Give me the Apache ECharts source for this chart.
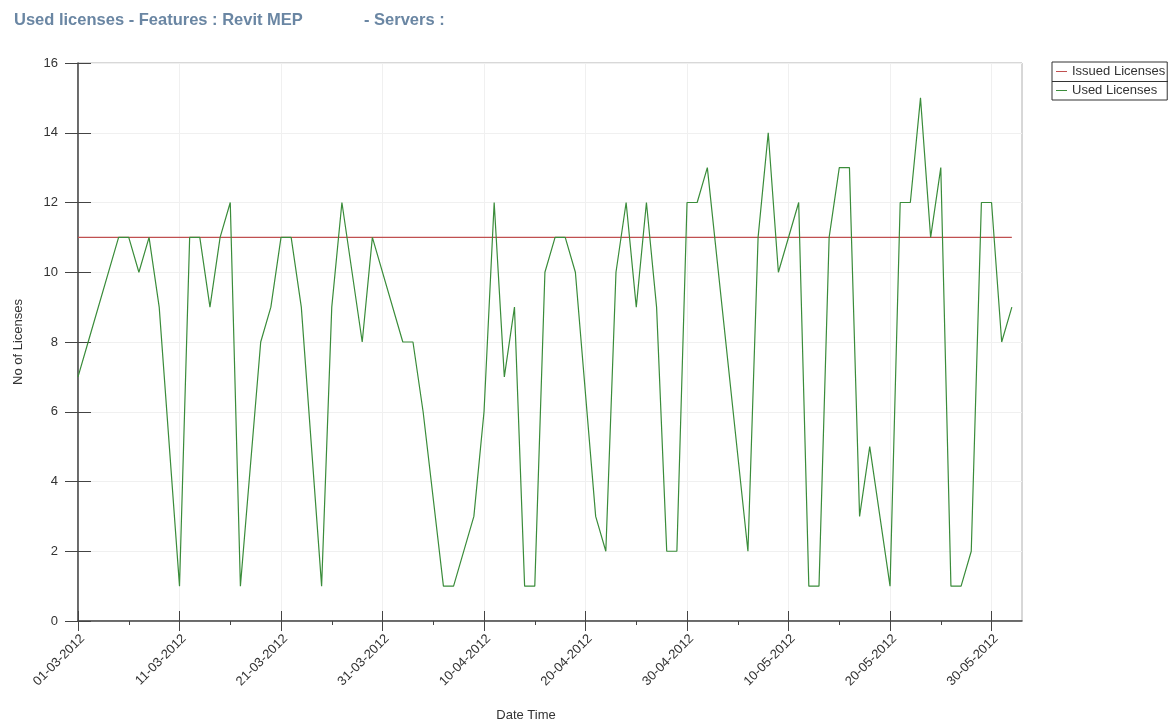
<!DOCTYPE html>
<html>
<head>
<meta charset="utf-8">
<script src="https://cdn.jsdelivr.net/npm/echarts@6/dist/echarts.min.js"></script>
<style>
html,body{margin:0;padding:0;background:#fff;}
#chart{width:1170px;height:727px;}
</style>
</head>
<body>
<div id="chart"></div>
<script>
// ---- data ----
const startDate = '2012-03-01';
const usedDates = ['2012-03-01','2012-03-02','2012-03-05','2012-03-06','2012-03-07','2012-03-08','2012-03-09','2012-03-11','2012-03-12','2012-03-13','2012-03-14','2012-03-15','2012-03-16','2012-03-17','2012-03-19','2012-03-20','2012-03-21','2012-03-22','2012-03-23','2012-03-25','2012-03-26','2012-03-27','2012-03-29','2012-03-30',
'2012-04-02','2012-04-03','2012-04-04','2012-04-06','2012-04-07','2012-04-09','2012-04-10','2012-04-11','2012-04-12','2012-04-13','2012-04-14','2012-04-15','2012-04-16','2012-04-17','2012-04-18','2012-04-19',
'2012-04-21','2012-04-22','2012-04-23','2012-04-24','2012-04-25','2012-04-26','2012-04-27','2012-04-28','2012-04-29','2012-04-30','2012-05-01','2012-05-02',
'2012-05-06','2012-05-07','2012-05-08','2012-05-09',
'2012-05-11','2012-05-12','2012-05-13','2012-05-14','2012-05-15','2012-05-16','2012-05-17','2012-05-18',
'2012-05-20','2012-05-21','2012-05-22','2012-05-23','2012-05-24','2012-05-25','2012-05-26','2012-05-27','2012-05-28','2012-05-29','2012-05-30','2012-05-31','2012-06-01'];
const usedValues = [7,8,11,11,10,11,9,1,11,11,9,11,12,1,8,9,11,11,9,1,9,12,8,11,
8,8,6,1,1,3,6,12,7,9,1,1,10,11,11,10,
3,2,10,12,9,12,9,2,2,12,12,13,
2,11,14,10,
12,1,1,11,13,13,3,5,
1,12,12,15,11,13,1,1,2,12,12,8,9];
const issuedDates = ['2012-03-01','2012-06-01'];
const issuedValues = [11,11];
const majorTickDates = ['2012-03-01','2012-03-11','2012-03-21','2012-03-31','2012-04-10','2012-04-20','2012-04-30','2012-05-10','2012-05-20','2012-05-30'];
const minorTickDates = ['2012-03-06','2012-03-16','2012-03-26','2012-04-05','2012-04-15','2012-04-25','2012-05-05','2012-05-15','2012-05-25'];
const axisEndDate = '2012-06-02';
const yTicks = [0,2,4,6,8,10,12,14,16];

// ---- helpers ----
const DAY = 86400000;
const t0 = Date.parse(startDate);
const toDay = s => Math.round((Date.parse(s) - t0) / DAY);
const pad = n => (n < 10 ? '0' : '') + n;
const dayLabel = d => {
  const t = new Date(t0 + Math.round(d) * DAY);
  return pad(t.getUTCDate()) + '-' + pad(t.getUTCMonth() + 1) + '-' + t.getUTCFullYear();
};
const majorDays = majorTickDates.map(toDay);
const minorDays = minorTickDates.map(toDay);
const xMax = toDay(axisEndDate);
const usedData = usedDates.map((d, i) => [toDay(d), usedValues[i]]);
const issuedData = issuedDates.map((d, i) => [toDay(d), issuedValues[i]]);

const FONT = '"Liberation Sans", Arial, sans-serif';
const axisColor = '#444';
const titleColor = '#6a86a3';
const issuedColor = '#c05050';
const usedColor = '#3a8c3a';

const chart = echarts.init(document.getElementById('chart'), null, {renderer: 'canvas'});
const baseX = {type: 'value', min: 0, max: xMax, interval: 10, position: 'bottom', gridIndex: 0};
const baseY = {type: 'value', min: 0, max: 16, interval: 2, position: 'left', gridIndex: 0};

chart.setOption({
  animation: false,
  backgroundColor: '#fff',
  title: [
    {text: 'Used licenses - Features : Revit MEP', left: 9, top: 7,
     textStyle: {fontFamily: FONT, fontSize: 16.5, fontWeight: 'bold', color: titleColor}},
    {text: '- Servers :', left: 359, top: 7,
     textStyle: {fontFamily: FONT, fontSize: 16.5, fontWeight: 'bold', color: titleColor}}
  ],
  legend: {
    data: ['Issued Licenses', 'Used Licenses'], orient: 'vertical', left: 1052, top: 62,
    padding: [3, 2, 3, 4], itemGap: 6,
    borderColor: '#333', borderWidth: 1, icon: 'rect', itemWidth: 11, itemHeight: 1,
    textStyle: {fontFamily: FONT, fontSize: 13, color: '#333'}
  },
  graphic: [{
    type: 'line', silent: true, z: 100,
    shape: {x1: 1052, y1: 81.5, x2: 1168, y2: 81.5},
    style: {stroke: '#333', lineWidth: 1}
  }],
  grid: {left: 78, top: 63, right: 148, bottom: 103, show: true, borderColor: '#b0b0b0', borderWidth: 1, backgroundColor: 'transparent'},
  xAxis: [
    Object.assign({}, baseX, {
      name: 'Date Time', nameLocation: 'middle', nameGap: 88,
      nameTextStyle: {fontFamily: FONT, fontSize: 13, color: '#333', padding: [0, 48, 0, 0]},
      axisLine: {show: true, onZero: false, lineStyle: {color: axisColor, width: 1.5}},
      axisTick: {show: true, inside: false, length: 10, customValues: majorDays, lineStyle: {color: axisColor}},
      axisLabel: {show: true, customValues: majorDays, rotate: 45, margin: 11, verticalAlign: 'top',
        fontFamily: FONT, fontSize: 13, color: '#333', formatter: v => dayLabel(v)},
      splitLine: {show: true, lineStyle: {color: '#f0f0f0', width: 1}}
    }),
    Object.assign({}, baseX, {
      axisLine: {show: false, onZero: false},
      axisTick: {show: true, inside: true, length: 10, customValues: majorDays, lineStyle: {color: axisColor}},
      axisLabel: {show: false}, splitLine: {show: false}
    }),
    Object.assign({}, baseX, {
      axisLine: {show: false, onZero: false},
      axisTick: {show: true, inside: false, length: 4, customValues: minorDays, lineStyle: {color: axisColor}},
      axisLabel: {show: false}, splitLine: {show: false}
    })
  ],
  yAxis: [
    Object.assign({}, baseY, {
      name: 'No of Licenses', nameLocation: 'middle', nameGap: 53,
      nameTextStyle: {fontFamily: FONT, fontSize: 13, color: '#333'},
      axisLine: {show: true, onZero: false, lineStyle: {color: axisColor, width: 1.5}},
      axisTick: {show: true, inside: false, length: 13, lineStyle: {color: axisColor}},
      axisLabel: {show: true, margin: 20, fontFamily: FONT, fontSize: 13, color: '#333',
        customValues: yTicks},
      splitLine: {show: true, lineStyle: {color: '#f0f0f0', width: 1}}
    }),
    Object.assign({}, baseY, {
      axisLine: {show: false, onZero: false},
      axisTick: {show: true, inside: true, length: 13, lineStyle: {color: axisColor}},
      axisLabel: {show: false}, splitLine: {show: false}
    })
  ],
  series: [
    {name: 'Issued Licenses', type: 'line', data: issuedData, showSymbol: false, symbol: 'none',
     lineStyle: {color: issuedColor, width: 1.3}, itemStyle: {color: issuedColor}, z: 3},
    {name: 'Used Licenses', type: 'line', data: usedData, showSymbol: false, symbol: 'none',
     lineStyle: {color: usedColor, width: 1.2}, itemStyle: {color: usedColor}, z: 4}
  ]
});
</script>
</body>
</html>
